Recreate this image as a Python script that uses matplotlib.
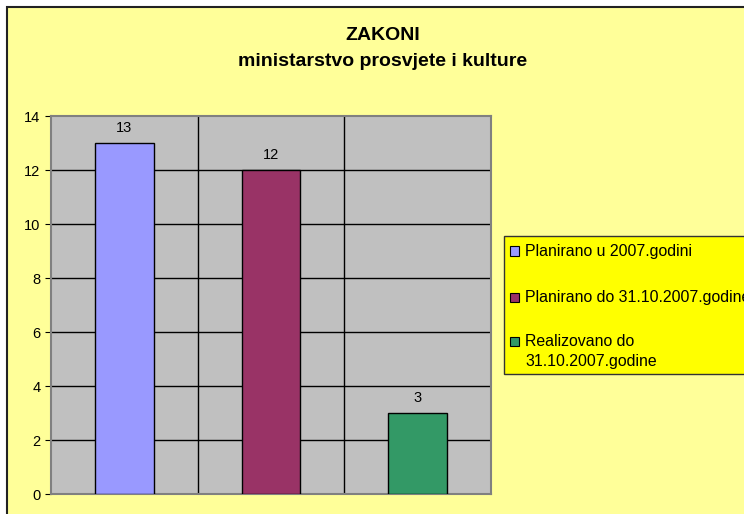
import matplotlib.pyplot as plt
from matplotlib.patches import Rectangle

plt.rcParams['font.family'] = ['Liberation Sans', 'DejaVu Sans']

# Data
series = ['Planirano u 2007.godini',
          'Planirano do 31.10.2007.godine',
          'Realizovano do\n31.10.2007.godine']
values = [13, 12, 3]
colors = ['#9999FF', '#993366', '#339966']
yticks = [0, 2, 4, 6, 8, 10, 12, 14]

W, H = 744, 514
fig = plt.figure(figsize=(W / 100, H / 100), dpi=100, facecolor='white')

# chart area (yellow, bordered; cut off at right/bottom like the original)
fig.add_artist(Rectangle((7 / W, -0.1), 1.2, 1.1 - 7 / H, transform=fig.transFigure,
                         facecolor='#FFFF99', edgecolor='#222222', lw=1.5, zorder=-5))

ax = fig.add_axes([51 / W, 1 - 494 / H, 440 / W, 378 / H])
ax.set_facecolor('#C0C0C0')

x = list(range(len(values)))
ax.bar(x, values, width=0.4, color=colors, edgecolor='black', linewidth=1, zorder=3)
for xi, v in zip(x, values):
    ax.annotate(str(v), (xi, v), xytext=(0, 6), textcoords='offset points',
                ha='center', va='bottom', fontsize=10.5)

ax.set_xlim(-0.5, len(values) - 0.5)
ax.set_ylim(0, 14)
ax.set_yticks(yticks)
ax.tick_params(axis='y', labelsize=10.5, length=4, direction='out', color='black')
ax.set_xticks([])
for i in range(1, len(values)):
    ax.axvline(i - 0.5, color='black', lw=1, zorder=1)
for t in yticks[1:-1]:
    ax.axhline(t, color='black', lw=1, zorder=1)
for s in ax.spines.values():
    s.set_color('#808080')
    s.set_linewidth(1.5)

fig.text(383 / W, 1 - 36 / H, 'ZAKONI', ha='center', va='center',
         fontsize=14, fontweight='bold')
fig.text(383 / W, 1 - 62 / H, 'ministarstvo prosvjete i kulture', ha='center',
         va='center', fontsize=14, fontweight='bold')

# legend box
fig.add_artist(Rectangle((504 / W, 1 - 374 / H), 260 / W, 138 / H,
                         transform=fig.transFigure, facecolor='#FFFF00',
                         edgecolor='#333333', lw=1))
label_y = [251, 297, 341]
for lab, col, yy in zip(series, colors, label_y):
    fig.add_artist(Rectangle((510 / W, 1 - (yy + 4.5) / H), 9 / W, 9 / H,
                             transform=fig.transFigure, facecolor=col,
                             edgecolor='black', lw=0.8))
    fig.text(525 / W, 1 - (yy - 7) / H, lab, ha='left', va='top',
             fontsize=11.4, linespacing=1.45)

fig.savefig('out.png', dpi=100, facecolor=fig.get_facecolor())
